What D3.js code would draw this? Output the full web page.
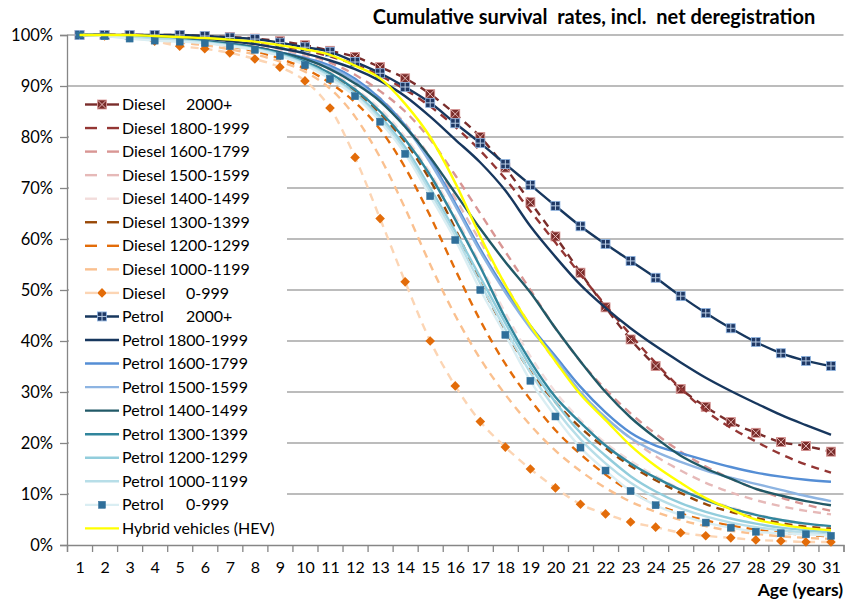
<!DOCTYPE html>
<html>
<head>
<meta charset="utf-8">
<script src="https://cdn.jsdelivr.net/npm/d3@7"></script>
<style>
  html, body { margin: 0; padding: 0; background: #fff; }
  svg { display: block; font-family: Lato, "Open Sans", sans-serif; }
</style>
</head>
<body>
<svg id="chart" width="855" height="601"></svg>
<script>
// ---------------- DATA ----------------
const ages = [1,2,3,4,5,6,7,8,9,10,11,12,13,14,15,16,17,18,19,20,21,22,23,24,25,26,27,28,29,30,31];
const yTicks = [0,0.1,0.2,0.3,0.4,0.5,0.6,0.7,0.8,0.9,1.0];
const titleText = "Cumulative survival  rates, incl.  net deregistration";
const xAxisTitle = "Age (years)";

// survival rate in percent, ages 1..31
const diesel2000 = [100,100,100,100,100,99.8,99.6,99.3,98.8,98.0,96.9,95.7,93.7,91.5,88.4,84.5,80.0,74.0,67.2,60.5,53.4,46.6,40.3,35.1,30.6,27.1,24.1,22.0,20.2,19.4,18.3];
const diesel1800 = [100,100,100,99.9,99.7,99.4,99.0,98.5,97.8,97.0,95.8,94.2,92.0,89.3,86.0,82.0,77.3,71.8,65.5,59.3,53.0,47.0,41.2,35.7,30.7,26.3,23.0,20.3,17.8,15.8,14.2];
const diesel1600 = [100,100,99.9,99.8,99.6,99.3,98.9,98.3,97.5,96.3,94.6,92.2,89.0,85.0,79.5,72.5,65.0,57.5,50.0,42.5,36.0,30.5,25.8,21.8,18.3,15.4,13.0,11.0,9.3,7.9,6.7];
const diesel1500 = [100,100,99.9,99.7,99.5,99.2,98.7,98.0,97.1,95.8,94.0,91.3,87.6,82.6,76.0,68.0,59.5,51.0,43.0,36.0,30.0,25.0,20.9,17.4,14.6,12.2,10.3,8.8,7.6,6.7,6.0];
const diesel1400 = [100,100,99.8,99.6,99.3,99.0,98.5,97.8,96.8,95.3,93.0,89.5,85.5,80.0,73.0,64.5,55.0,45.5,37.0,30.0,24.5,20.0,16.5,13.5,11.0,9.0,7.4,6.0,5.0,4.2,3.6];
const diesel1300 = [100,100,99.8,99.5,99.2,98.8,98.3,97.6,96.5,94.8,92.4,89.0,84.5,79.0,71.5,62.0,51.5,42.0,34.0,28.0,23.0,19.0,15.5,12.7,10.2,8.0,6.5,5.3,4.3,3.6,3.2];
const diesel1200 = [100,99.9,99.7,99.4,99.0,98.5,97.8,96.8,95.4,93.4,90.6,86.8,81.5,74.0,64.5,54.0,44.0,35.5,28.5,22.5,17.8,13.8,10.5,8.0,6.2,4.8,3.8,3.0,2.4,2.0,1.7];
const diesel1000 = [100,99.8,99.5,99.0,98.5,98.0,97.2,96.2,94.8,92.8,89.5,84.0,76.0,66.0,55.0,45.0,36.5,29.5,23.5,18.5,14.5,11.2,8.5,6.5,4.9,3.7,2.8,2.2,1.7,1.4,1.2];
const diesel0    = [100,99.8,99.5,98.8,97.8,97.3,96.5,95.3,93.7,91.0,85.7,76.0,64.0,51.6,40.0,31.2,24.2,19.2,14.9,11.2,8.0,6.1,4.5,3.5,2.4,1.8,1.4,1.0,0.8,0.6,0.6];
const petrol2000 = [100,100,100,100,100,99.8,99.5,99.2,98.5,97.6,96.7,94.7,92.5,89.8,86.7,82.7,78.8,74.7,70.6,66.5,62.5,59.0,55.7,52.4,48.8,45.5,42.5,39.8,37.6,36.1,35.1];
const petrol1800 = [100,100,99.9,99.7,99.5,99.2,98.8,98.2,97.4,96.4,95.0,93.3,91.0,88.0,84.0,79.5,75.0,69.5,62.5,56.5,51.0,46.5,42.5,39.0,35.8,32.8,30.2,27.8,25.5,23.5,21.6];
const petrol1600 = [100,100,99.8,99.5,99.2,98.8,98.3,97.6,96.6,95.5,94.0,91.4,87.5,82.3,75.5,67.0,58.0,50.0,43.0,37.0,31.0,26.0,22.0,19.5,18.0,16.6,15.3,14.2,13.4,12.8,12.4];
const petrol1500 = [100,100,99.8,99.5,99.2,98.8,98.3,97.5,96.4,95.2,93.6,91.0,87.0,82.0,75.0,66.5,57.5,49.5,42.5,36.5,30.0,25.0,21.0,18.3,16.3,14.6,13.2,12.0,10.8,9.6,8.6];
const petrol1400 = [100,100,99.8,99.5,99.2,98.8,98.3,97.6,96.6,95.3,93.3,90.5,87.0,82.0,76.0,69.0,62.0,55.5,49.5,42.5,36.0,30.0,25.0,21.0,17.5,15.0,13.0,11.0,9.7,8.6,7.8];
const petrol1300 = [100,99.9,99.7,99.4,99.1,98.7,98.2,97.5,96.4,94.8,92.5,89.3,85.0,79.5,72.5,63.8,54.5,44.5,36.0,29.0,24.0,19.5,16.0,13.2,10.8,8.8,7.2,5.9,4.9,4.2,3.7];
const petrol1200 = [100,99.9,99.6,99.3,99.0,98.6,98.0,97.3,96.2,94.5,92.0,88.6,84.0,78.0,70.0,61.5,52.5,43.5,35.0,28.0,22.0,17.5,13.5,10.5,8.2,6.5,5.2,4.2,3.4,2.9,2.5];
const petrol1000 = [100,99.9,99.5,99.2,98.9,98.5,97.9,97.2,96.0,94.3,91.7,88.2,83.5,77.3,69.2,60.6,51.3,42.3,33.8,26.6,20.7,16.0,12.2,9.3,7.2,5.6,4.4,3.5,2.9,2.4,2.0];
const petrol0    = [100,99.8,99.3,98.9,98.7,98.4,97.8,97.1,95.9,94.1,91.4,88.0,83.0,76.7,68.4,59.8,50.0,41.2,32.2,25.2,19.1,14.6,10.6,7.8,5.9,4.4,3.4,2.6,2.3,2.1,1.8];
const hev        = [100,100,100,99.8,99.6,99.4,99.1,98.7,98.0,97.2,96.1,94.0,91.5,86.5,80.0,71.0,60.5,51.0,43.0,36.0,29.5,24.5,19.5,15.5,12.2,9.2,7.0,5.0,4.0,3.3,2.9];

// series table (built from the arrays above)
const series = [
  {fuel:"Diesel", band:"2000+",     values:diesel2000, color:"#7a2d2b", dash:true,  marker:"xsquare"},
  {fuel:"Diesel", band:"1800-1999", values:diesel1800, color:"#943634", dash:true,  marker:null},
  {fuel:"Diesel", band:"1600-1799", values:diesel1600, color:"#d99694", dash:true,  marker:null},
  {fuel:"Diesel", band:"1500-1599", values:diesel1500, color:"#e6b9b8", dash:true,  marker:null},
  {fuel:"Diesel", band:"1400-1499", values:diesel1400, color:"#f2dcdb", dash:true,  marker:null},
  {fuel:"Diesel", band:"1300-1399", values:diesel1300, color:"#984807", dash:true,  marker:null},
  {fuel:"Diesel", band:"1200-1299", values:diesel1200, color:"#e36c09", dash:true,  marker:null},
  {fuel:"Diesel", band:"1000-1199", values:diesel1000, color:"#fac08f", dash:true,  marker:null},
  {fuel:"Diesel", band:"0-999",     values:diesel0,    color:"#fcd5b4", dash:true,  marker:"diamond"},
  {fuel:"Petrol", band:"2000+",     values:petrol2000, color:"#17375e", dash:false, marker:"psquare"},
  {fuel:"Petrol", band:"1800-1999", values:petrol1800, color:"#17375e", dash:false, marker:null},
  {fuel:"Petrol", band:"1600-1799", values:petrol1600, color:"#558ed5", dash:false, marker:null},
  {fuel:"Petrol", band:"1500-1599", values:petrol1500, color:"#8db4e2", dash:false, marker:null},
  {fuel:"Petrol", band:"1400-1499", values:petrol1400, color:"#215967", dash:false, marker:null},
  {fuel:"Petrol", band:"1300-1399", values:petrol1300, color:"#31859c", dash:false, marker:null},
  {fuel:"Petrol", band:"1200-1299", values:petrol1200, color:"#92cddc", dash:false, marker:null},
  {fuel:"Petrol", band:"1000-1199", values:petrol1000, color:"#b7dee8", dash:false, marker:null},
  {fuel:"Petrol", band:"0-999",     values:petrol0,    color:"#daeef3", dash:false, marker:"square"},
  {fuel:"Hybrid vehicles (HEV)", band:"", values:hev,  color:"#ffff00", dash:false, marker:null}
];

// ---------------- LAYOUT ----------------
const svg = d3.select("#chart");
const plot = {left:67, right:843.5, top:35, bottom:545};
const FONT = "Lato, sans-serif";

const x = d3.scalePoint().domain(ages).range([plot.left, plot.right]).padding(0.5);
const xEdge = d3.scaleLinear().domain([0.5, 31.5]).range([plot.left, plot.right]);
const y = d3.scaleLinear().domain([0, 1]).range([plot.bottom, plot.top]);

// gridlines
svg.append("g").selectAll("line").data(yTicks.filter(d => d > 0)).join("line")
  .attr("x1", plot.left).attr("x2", plot.right)
  .attr("y1", d => y(d)).attr("y2", d => y(d))
  .attr("stroke", "#a6a6a6").attr("stroke-width", 1.3);

// y axis
const yAxis = svg.append("g").attr("transform", `translate(${plot.left},0)`)
  .call(d3.axisLeft(y).tickValues(yTicks).tickFormat(d3.format(".0%")).tickSize(7).tickPadding(7));
yAxis.select(".domain").attr("stroke", "#868686").attr("stroke-width", 1.3);
yAxis.selectAll(".tick line").attr("stroke", "#868686").attr("stroke-width", 1.3);
yAxis.selectAll("text").attr("font-family", FONT).attr("font-size", 16.5).attr("fill", "#000");

// x axis: tick marks between categories
const xTickAxis = svg.append("g").attr("transform", `translate(0,${plot.bottom})`)
  .call(d3.axisBottom(xEdge).tickValues(d3.range(0.5, 31.6, 1)).tickSize(7).tickFormat(""));
xTickAxis.select(".domain").attr("stroke", "#868686").attr("stroke-width", 1.3);
xTickAxis.selectAll(".tick line").attr("stroke", "#868686").attr("stroke-width", 1.3);
// x axis labels at category centers
const xLab = svg.append("g").attr("transform", `translate(0,${plot.bottom})`)
  .call(d3.axisBottom(x).tickSize(0).tickPadding(17));
xLab.select(".domain").remove();
xLab.selectAll("text").attr("font-family", FONT).attr("font-size", 16).attr("fill", "#000");

// lines
const line = d3.line()
  .x((d, i) => x(ages[i]))
  .y(d => y(d / 100))
  .curve(d3.curveMonotoneX);

const gSeries = svg.append("g");
function drawMarker(g, type, cx, cy) {
  if (type === "psquare") {
    g.append("rect").attr("x", cx - 4.5).attr("y", cy - 4.5).attr("width", 9).attr("height", 9)
      .attr("fill", "#1f3864").attr("stroke", "#8db4e2").attr("stroke-width", 0.8);
    g.append("path").attr("d", `M${cx-4.5},${cy}H${cx+4.5}M${cx},${cy-4.5}V${cy+4.5}`)
      .attr("stroke", "#b8cce4").attr("stroke-width", 1);
  } else if (type === "xsquare") {
    g.append("rect").attr("x", cx - 4.5).attr("y", cy - 4.5).attr("width", 9).attr("height", 9)
      .attr("fill", "#7a2d2b").attr("stroke", "#d99694").attr("stroke-width", 0.8);
    g.append("path").attr("d", `M${cx-4},${cy-4}L${cx+4},${cy+4}M${cx+4},${cy-4}L${cx-4},${cy+4}`)
      .attr("stroke", "#e6b9b8").attr("stroke-width", 1);
  } else if (type === "square") {
    g.append("rect").attr("x", cx - 3.5).attr("y", cy - 3.5).attr("width", 7).attr("height", 7)
      .attr("fill", "#2f6f9a").attr("stroke", "#2f6f9a").attr("stroke-width", 0.5);
  } else if (type === "diamond") {
    g.append("path").attr("d", `M${cx},${cy-4.8}L${cx+4.8},${cy}L${cx},${cy+4.8}L${cx-4.8},${cy}Z`)
      .attr("fill", "#e36c09");
  }
}

series.forEach(s => {
  const g = gSeries.append("g");
  g.append("path").datum(s.values)
    .attr("d", line)
    .attr("fill", "none")
    .attr("stroke", s.color)
    .attr("stroke-width", 2.4)
    .attr("stroke-dasharray", s.dash ? "8,6" : null);
  if (s.marker) {
    s.values.forEach((v, i) => drawMarker(g, s.marker, x(ages[i]), y(v / 100)));
  }
});

// legend
const legend = svg.append("g");
legend.append("rect").attr("x", 69).attr("y", 90).attr("width", 218).attr("height", 452).attr("fill", "#fff");
const legTop = 104.5, legStep = 23.55;
series.forEach((s, i) => {
  const ly = legTop + i * legStep;
  const g = legend.append("g");
  if (s.dash) {
    g.append("line").attr("x1", 85).attr("x2", 97).attr("y1", ly).attr("y2", ly)
      .attr("stroke", s.color).attr("stroke-width", 2.4);
    g.append("line").attr("x1", 107).attr("x2", 119).attr("y1", ly).attr("y2", ly)
      .attr("stroke", s.color).attr("stroke-width", 2.4);
  } else {
    g.append("line").attr("x1", 85).attr("x2", 119).attr("y1", ly).attr("y2", ly)
      .attr("stroke", s.color).attr("stroke-width", 2.4);
  }
  if (s.marker) drawMarker(g, s.marker, 102, ly);
  const t = g.append("text").attr("x", 122).attr("y", ly).attr("dy", "0.35em")
    .attr("font-family", FONT).attr("font-size", 16).attr("fill", "#000");
  if (s.band === "2000+" || s.band === "0-999") {
    t.append("tspan").text(s.fuel);
    t.append("tspan").attr("x", 186).text(s.band);
  } else if (s.band) {
    t.text(s.fuel + " " + s.band);
  } else {
    t.text(s.fuel);
  }
});

// title
svg.append("text").attr("x", 594).attr("y", 24).attr("text-anchor", "middle")
  .attr("font-family", FONT).attr("font-weight", "bold").attr("font-size", 20)
  .attr("fill", "#000").style("white-space", "pre").text(titleText);

// x axis title
svg.append("text").attr("x", 843).attr("y", 596).attr("text-anchor", "end")
  .attr("font-family", FONT).attr("font-weight", "bold").attr("font-size", 17.5)
  .attr("fill", "#000").text(xAxisTitle);
</script>
</body>
</html>
